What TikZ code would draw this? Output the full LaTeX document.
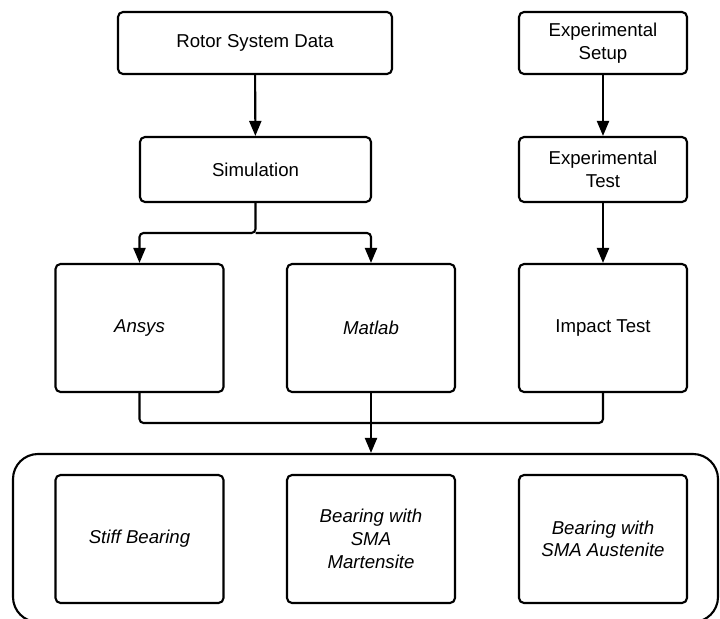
\documentclass[tikz,border=0pt]{standalone}
\usepackage{fontspec}
\setmainfont{Liberation Sans}
\usepackage{tikz}
\usetikzlibrary{shapes,arrows.meta,positioning,calc}

\begin{document}
\begin{tikzpicture}[
    box/.style={rectangle, draw=black, very thick, rounded corners=0.1cm, align=center, fill=white, font=\fontsize{10.6}{12.9}\selectfont},
    wide/.style={box, minimum width=3.36cm, minimum height=1.24cm},
    tall/.style={box, minimum width=3.36cm, minimum height=2.56cm},
    group/.style={rectangle, draw=black, very thick, rounded corners=0.5cm, minimum width=14.1cm, minimum height=3.36cm},
    arrow/.style={-{Triangle[length=0.3cm, width=0.24cm]}, very thick},
    line/.style={very thick, rounded corners=0.08cm}]

\useasboundingbox (0,0) rectangle (14.4,-12.38);

% Simulation side (Left)
\node[wide, minimum width=5.48cm] (rotor_data) at (5.10, -0.86) {Rotor System Data};
\node[wide, minimum width=4.62cm, minimum height=1.30cm] (simulation) at (5.11, -3.39) {Simulation};
\node[tall] (ansys) at (2.79, -6.56) {\itshape Ansys};
\node[tall] (matlab) at (7.42, -6.56) {\itshape Matlab};

% Experimental side (Right)
\node[wide] (exp_setup) at (12.06, -0.86) {Experimental\\Setup};
\node[wide, minimum height=1.30cm] (exp_test) at (12.06, -3.39) {Experimental\\Test};
\node[tall] (impact_test) at (12.06, -6.56) {Impact Test};

% Bearing cases
\node[group] (bearing_cases) at (7.31, -10.76) {};
\node[tall] (stiff_bearing) at (2.79, -10.78) {\itshape Stiff Bearing};
\node[tall] (sma_martensite) at (7.42, -10.78) {\itshape Bearing with\\\itshape SMA\\\itshape Martensite};
\node[tall] (sma_austenite) at (12.06, -10.78) {\itshape Bearing with\\\itshape SMA Austenite};

% Connections
\draw[arrow] (rotor_data) -- (simulation);
\draw[arrow] (exp_setup) -- (exp_test);
\draw[arrow] (exp_test) -- (impact_test);

\coordinate (split) at (5.11, -4.66);
\draw[arrow, line] (simulation.south) -- (split) -| (ansys.north);
\draw[arrow, line] (split) -| (matlab.north);

\coordinate (merge) at (7.42, -8.46);
\draw[line] (ansys.south) |- (merge) -| (impact_test.south);
\draw[arrow] (matlab.south) -- (matlab.south |- bearing_cases.north);

\end{tikzpicture}
\end{document}
